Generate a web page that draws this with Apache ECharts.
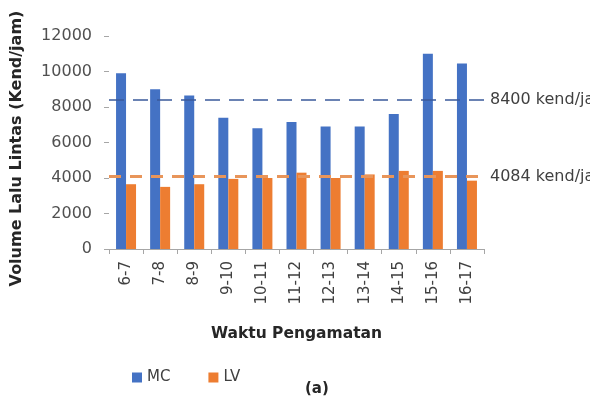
<!DOCTYPE html>
<html><head><meta charset="utf-8">
<script src="https://cdn.jsdelivr.net/npm/echarts@6/dist/echarts.min.js"></script>
<style>html,body{margin:0;padding:0;background:#fff}#c{width:590px;height:400px}</style>
</head><body><div id="c"></div>
<script>
var categories = ['6-7','7-8','8-9','9-10','10-11','11-12','12-13','13-14','14-15','15-16','16-17'];
var mcValues = [9900, 9000, 8650, 7400, 6800, 7150, 6900, 6900, 7600, 11000, 10450];
var lvValues = [3650, 3500, 3650, 3950, 4000, 4300, 4000, 4200, 4400, 4400, 3850];
var mcAverage = 8400;
var lvAverage = 4084;
var mcAvgLabel = '8400 kend/jam';
var lvAvgLabel = '4084 kend/jam';
var yTicks = [0, 2000, 4000, 6000, 8000, 10000, 12000];

var font = '"DejaVu Sans", sans-serif';
var chart = echarts.init(document.getElementById('c'));
chart.setOption({
  animation: false,
  textStyle: {fontFamily: font},
  grid: {left: 109, right: 106, top: 36, bottom: 151},
  legend: {
    data: ['MC', 'LV'], left: 127, top: 365, itemWidth: 10, itemHeight: 10, itemGap: 38,
    textStyle: {fontSize: 15, color: '#404040', fontFamily: font}, icon: 'rect'
  },
  xAxis: {
    type: 'category', data: categories,
    name: 'Waktu Pengamatan', nameLocation: 'middle', nameGap: 77,
    nameTextStyle: {fontSize: 15.5, fontWeight: 'bold', color: '#262626', fontFamily: font},
    axisLine: {lineStyle: {color: '#a6a6a6'}},
    axisTick: {show: true, length: 5, lineStyle: {color: '#a6a6a6'}},
    axisLabel: {rotate: 90, fontSize: 15, color: '#404040', margin: 12, fontFamily: font}
  },
  yAxis: {
    type: 'value', min: 0, max: 12000, interval: 2000,
    name: 'Volume Lalu Lintas (Kend/jam)', nameLocation: 'middle', nameGap: 84, nameRotate: 90,
    nameTextStyle: {fontSize: 16, fontWeight: 'bold', color: '#262626', fontFamily: font, padding: [0, 12, 0, 0]},
    axisLine: {show: false},
    axisTick: {show: true, length: 5, lineStyle: {color: '#a6a6a6'}},
    splitLine: {show: false},
    axisLabel: {fontSize: 16, color: '#505050', margin: 17, fontFamily: font,
      formatter: function (v) { return yTicks.indexOf(v) >= 0 ? String(v) : ''; }}
  },
  series: [
    {
      name: 'MC', type: 'bar', data: mcValues, barWidth: 10, barGap: '0%',
      itemStyle: {color: '#4472C4'},
      markLine: {
        symbol: 'none', silent: true,
        lineStyle: {type: [15, 9], color: '#3A5A9A', width: 1.5},
        label: {show: false},
        data: [{yAxis: mcAverage}]
      }
    },
    {
      name: 'LV', type: 'bar', data: lvValues, barWidth: 10,
      itemStyle: {color: '#ED7D31'},
      markLine: {
        symbol: 'none', silent: true,
        lineStyle: {type: [12, 9], color: '#E8955A', width: 3},
        label: {show: false},
        data: [{yAxis: lvAverage}]
      }
    }
  ],
  graphic: [
    {type: 'text', left: 490, top: 92, style: {text: mcAvgLabel, fontSize: 16, fill: '#404040', fontFamily: font}},
    {type: 'text', left: 490, top: 169, style: {text: lvAvgLabel, fontSize: 16, fill: '#404040', fontFamily: font}},
    {type: 'text', left: 305, top: 382, style: {text: '(a)', fontSize: 15, fontWeight: 'bold', fill: '#262626', fontFamily: font}}
  ]
});
</script></body></html>
